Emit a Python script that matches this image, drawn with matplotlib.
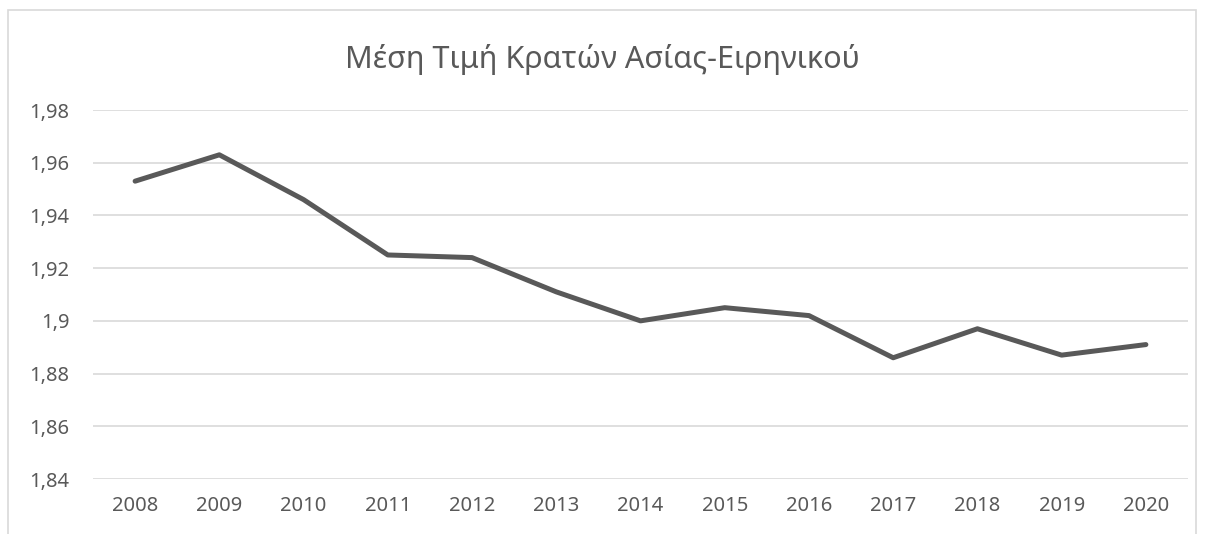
import matplotlib.pyplot as plt
from matplotlib.patches import Rectangle

plt.rcParams['font.family'] = ['Noto Sans', 'DejaVu Sans']

# Data
years = ['2008', '2009', '2010', '2011', '2012', '2013', '2014',
         '2015', '2016', '2017', '2018', '2019', '2020']
values = [1.953, 1.963, 1.946, 1.925, 1.924, 1.911, 1.900,
          1.905, 1.902, 1.886, 1.897, 1.887, 1.891]
y_ticks = [1.84, 1.86, 1.88, 1.90, 1.92, 1.94, 1.96, 1.98]
y_labels = ['1,84', '1,86', '1,88', '1,9', '1,92', '1,94', '1,96', '1,98']

W, H = 1205, 534
fig = plt.figure(figsize=(W / 100, H / 100), dpi=100)

# Chart area border
fig.patches.append(Rectangle((8 / W, -0.05), (1196 - 8) / W, 1.05 - 10 / H,
                             transform=fig.transFigure, fill=False,
                             edgecolor='#D9D9D9', linewidth=1.2))

ax = fig.add_axes([93 / W, 1 - 479 / H, (1188 - 93) / W, (479 - 110) / H])

x = list(range(len(years)))
ax.plot(x, values, color='#595959', linewidth=3.6, solid_capstyle='round',
        solid_joinstyle='round', zorder=3)

ax.set_xlim(-0.5, len(years) - 0.5)
ax.set_ylim(1.84, 1.98)
ax.set_yticks(y_ticks)
ax.set_yticklabels(y_labels)
ax.set_xticks(x)
ax.set_xticklabels(years)

ax.grid(axis='y', color='#D9D9D9', linewidth=1.2)
ax.set_axisbelow(True)
for s in ax.spines.values():
    s.set_visible(False)
ax.tick_params(length=0, labelsize=14.5, colors='#595959')
ax.tick_params(axis='y', pad=17)
ax.tick_params(axis='x', pad=12)

fig.text(0.5, 1 - 68 / H, 'Μέση Τιμή Κρατών Ασίας-Ειρηνικού',
         ha='center', va='baseline', fontsize=22, color='#595959')

fig.savefig('out.png', dpi=100)
